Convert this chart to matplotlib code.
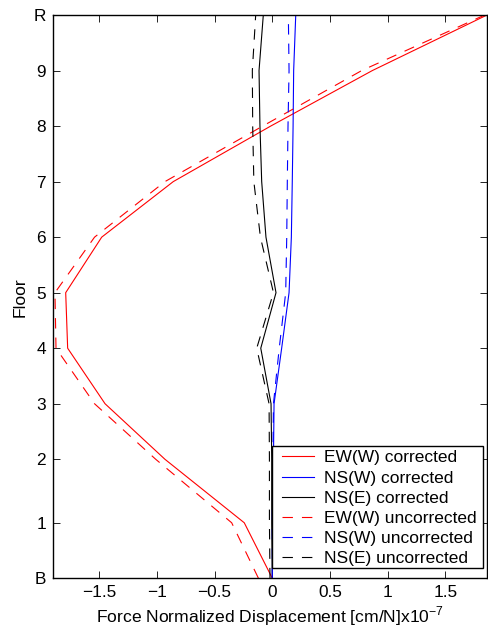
import matplotlib
matplotlib.use("Agg")
import matplotlib.pyplot as plt
from matplotlib.patches import Rectangle

plt.rcParams['font.family'] = ['Liberation Sans', 'DejaVu Sans']
plt.rcParams['lines.scale_dashes'] = False

# Floor elevations (m) and their labels
floor_heights = [0, 3.5, 7.5, 11, 14.5, 18, 21.5, 25, 28.5, 32, 35.5]
floor_labels = ['B', '1', '2', '3', '4', '5', '6', '7', '8', '9', 'R']

# Force-normalized displacement profiles [cm/N] x 1e-7
ew_w_corr = [0.0, -0.243, -0.93, -1.449, -1.773, -1.79, -1.478, -0.858, -0.014, 0.867, 1.86]
ns_w_corr = [0.0, 0.005, 0.01, 0.015, 0.081, 0.145, 0.165, 0.173, 0.18, 0.185, 0.203]
ns_e_corr = [0.0, -0.005, -0.005, -0.011, -0.10, 0.032, -0.055, -0.092, -0.107, -0.115, -0.078]
ew_w_unc = [-0.12, -0.352, -1.01, -1.54, -1.874, -1.883, -1.54, -0.93, -0.083, 0.775, 1.84]
ns_w_unc = [0.0, 0.0, 0.005, 0.01, 0.06, 0.116, 0.125, 0.13, 0.136, 0.145, 0.139]
ns_e_unc = [-0.02, -0.025, -0.025, -0.028, -0.135, 0.01, -0.103, -0.16, -0.17, -0.173, -0.144]

x_ticks = [-1.5, -1, -0.5, 0, 0.5, 1, 1.5]
x_tick_labels = ['\u22121.5', '\u22121', '\u22120.5', '0', '0.5', '1', '1.5']

series = [
    (ew_w_corr, 'EW(W) corrected', 'red', '-'),
    (ns_w_corr, 'NS(W) corrected', 'blue', '-'),
    (ns_e_corr, 'NS(E) corrected', 'black', '-'),
    (ew_w_unc, 'EW(W) uncorrected', 'red', '--'),
    (ns_w_unc, 'NS(W) uncorrected', 'blue', '--'),
    (ns_e_unc, 'NS(E) uncorrected', 'black', '--'),
]

fig = plt.figure(figsize=(4.88, 6.32), dpi=100)
ax = fig.add_axes([53 / 488, (632 - 578.3) / 632, (487 - 53) / 488, (578.3 - 15) / 632])

for vals, label, color, ls in series:
    line, = ax.plot(vals, floor_heights, color=color, lw=0.8, label=label)
    if ls == '--':
        line.set_dashes((7.5, 6.5))

ax.set_xlim(-1.90, 1.86)
ax.set_ylim(floor_heights[0], floor_heights[-1])
ax.set_xticks(x_ticks)
ax.set_xticklabels(x_tick_labels)
ax.set_yticks(floor_heights)
ax.set_yticklabels(floor_labels)

ax.tick_params(direction='in', top=True, right=True, length=5, width=0.6,
               labelsize=12.4, pad=5)
for sp in ax.spines.values():
    sp.set_linewidth(1.0)

ax.set_xlabel('Force Normalized Displacement [cm/N]x10$^{\\mathregular{\u22127}}$',
              fontsize=12.6, labelpad=3)
ax.set_ylabel('Floor', fontsize=12.6, labelpad=4)

# Legend box drawn as a plain rectangle behind a frameless legend
box = Rectangle((0.504, 0.0183), 0.990 - 0.504, 0.2349 - 0.0183,
                transform=ax.transAxes, facecolor='white', edgecolor='black',
                lw=1.0, zorder=9, clip_on=False)
ax.add_patch(box)
leg = ax.legend(loc='center left', bbox_to_anchor=(0.527, 0.1243), borderaxespad=0,
                fontsize=12.5, frameon=False, handlelength=1.85, handletextpad=0.6,
                borderpad=0, labelspacing=0.29)
leg.set_zorder(10)

fig.savefig('out.png', dpi=100)
